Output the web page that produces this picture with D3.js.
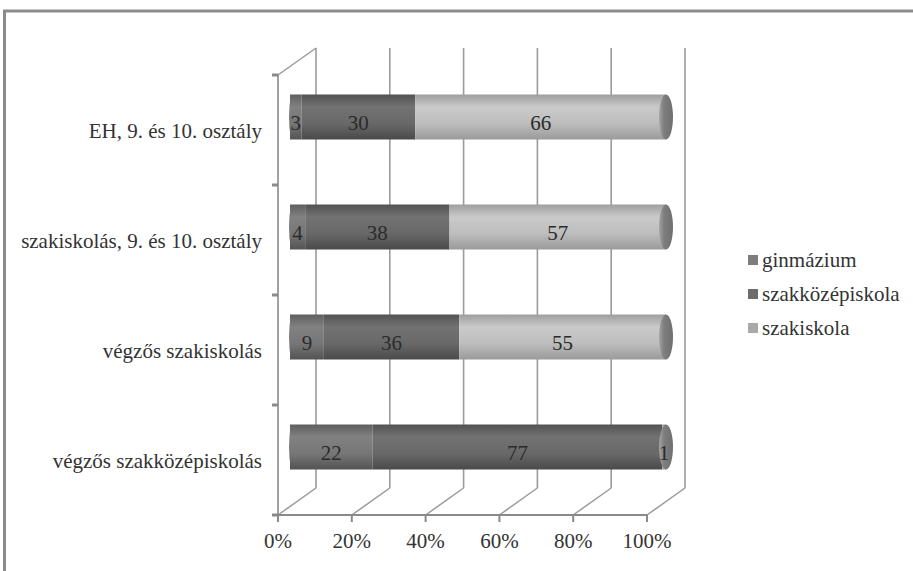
<!DOCTYPE html>
<html>
<head>
<meta charset="utf-8">
<script src="https://cdn.jsdelivr.net/npm/d3@7"></script>
<style>
  html, body { margin: 0; padding: 0; background: #fff; }
  svg { display: block; }
</style>
</head>
<body>
<svg id="chart" width="913" height="571" font-family="'Liberation Serif', 'DejaVu Serif', serif"></svg>
<script>
// Categories (top to bottom) and the three stacked series
const categories = [
  "EH, 9. és 10. osztály",
  "szakiskolás, 9. és 10. osztály",
  "végzős szakiskolás",
  "végzős szakközépiskolás"
];
const seriesNames = ["ginmázium", "szakközépiskola", "szakiskola"];
const gimnazium = [3, 4, 9, 22];
const szakkozepiskola = [30, 38, 36, 77];
const szakiskola = [66, 57, 55, 1];
const tickValues = [0, 20, 40, 60, 80, 100];
const tickLabels = ["0%", "20%", "40%", "60%", "80%", "100%"];

const seriesValues = [gimnazium, szakkozepiskola, szakiskola];

const svg = d3.select("#chart");
const W = 913, H = 571;
const textColor = "#333";
const fontSize = 21;

// Outer frame (top and left edges)
svg.append("path")
  .attr("d", `M4.5,${H} V11 H${W}`)
  .attr("fill", "none").attr("stroke", "#8c8c8c").attr("stroke-width", 3);

// Gradients for the cylinder look
const defs = svg.append("defs");
const seriesStops = [
  ["#5f5f5f", "#818181", "#767676", "#535353"],
  ["#525252", "#727272", "#686868", "#4a4a4a"],
  ["#9e9e9e", "#cacaca", "#bdbdbd", "#9a9a9a"]
];
seriesStops.forEach((st, i) => {
  const g = defs.append("linearGradient").attr("id", "g" + i)
    .attr("x1", 0).attr("y1", 0).attr("x2", 0).attr("y2", 1);
  [0, 0.28, 0.65, 1].forEach((o, k) => g.append("stop").attr("offset", o).attr("stop-color", st[k]));
});
const capG = defs.append("linearGradient").attr("id", "cap")
  .attr("x1", 0).attr("y1", 0).attr("x2", 1).attr("y2", 0);
capG.append("stop").attr("offset", 0).attr("stop-color", "#a5a5a5");
capG.append("stop").attr("offset", 0.35).attr("stop-color", "#7e7e7e");
capG.append("stop").attr("offset", 1).attr("stop-color", "#6f6f6f");

// Scales: front axis plane, depth offset to back wall, bar plane in the middle
const x = d3.scaleLinear().domain([0, 100]).range([278, 647]);
const depth = { dx: 38, dy: -27 };
const y = d3.scaleBand().domain(categories).range([75, 515]);
const xBar = d3.scaleLinear().domain([0, 100]).range([290, 666]);
const barH = 45;
const barMid = c => y(c) + y.bandwidth() / 2 - 13;

const gridColor = "#9a9a9a";

// Back wall vertical gridlines
svg.append("g").selectAll("line").data(tickValues).join("line")
  .attr("x1", d => x(d) + depth.dx).attr("x2", d => x(d) + depth.dx)
  .attr("y1", 75 + depth.dy).attr("y2", 515 + depth.dy)
  .attr("stroke", gridColor).attr("stroke-width", 1.6);

// Floor diagonals from each front tick to the back wall
svg.append("g").selectAll("line").data(tickValues).join("line")
  .attr("x1", d => x(d)).attr("y1", 515)
  .attr("x2", d => x(d) + depth.dx).attr("y2", 515 + depth.dy)
  .attr("stroke", gridColor).attr("stroke-width", 1.5);

// Left wall top diagonal
svg.append("line")
  .attr("x1", x(0)).attr("y1", 75)
  .attr("x2", x(0) + depth.dx).attr("y2", 75 + depth.dy)
  .attr("stroke", gridColor).attr("stroke-width", 1.5);

// Front value axis line with ticks
svg.append("line")
  .attr("x1", x(0)).attr("x2", x(100)).attr("y1", 515).attr("y2", 515)
  .attr("stroke", "#8a8a8a").attr("stroke-width", 2);
svg.append("g").selectAll("line").data(tickValues).join("line")
  .attr("x1", d => x(d)).attr("x2", d => x(d)).attr("y1", 515).attr("y2", 522)
  .attr("stroke", "#8a8a8a").attr("stroke-width", 2);
svg.append("g").selectAll("text").data(tickValues).join("text")
  .attr("x", d => x(d)).attr("y", 548)
  .attr("text-anchor", "middle").attr("font-size", fontSize).attr("fill", textColor)
  .text((d, i) => tickLabels[i]);

// Front category axis line with ticks
svg.append("line")
  .attr("x1", x(0)).attr("x2", x(0)).attr("y1", 75).attr("y2", 515)
  .attr("stroke", "#8a8a8a").attr("stroke-width", 1.6);
const catTicks = categories.map(c => y(c)).concat([y.range()[1]]);
svg.append("g").selectAll("line").data(catTicks).join("line")
  .attr("x1", x(0) - 6).attr("x2", x(0)).attr("y1", d => d).attr("y2", d => d)
  .attr("stroke", "#8a8a8a").attr("stroke-width", 3);

// Category labels
svg.append("g").selectAll("text").data(categories).join("text")
  .attr("x", 262).attr("y", d => y(d) + y.bandwidth() / 2 + 8)
  .attr("text-anchor", "end").attr("font-size", fontSize).attr("fill", textColor)
  .text(d => d);

// Stacked 100% segments
const rows = categories.map((c, i) => {
  const vals = seriesValues.map(s => s[i]);
  const total = d3.sum(vals);
  let acc = 0;
  return vals.map((v, k) => {
    const s0 = acc / total * 100;
    acc += v;
    return { cat: c, k, v, s0, s1: acc / total * 100 };
  });
});

const bars = svg.append("g");
rows.forEach(segs => {
  const c = segs[0].cat;
  const top = barMid(c) - barH / 2;
  const g = bars.append("g");
  // segments
  g.selectAll("rect").data(segs).join("rect")
    .attr("x", d => xBar(d.s0)).attr("y", top)
    .attr("width", d => xBar(d.s1) - xBar(d.s0)).attr("height", barH)
    .attr("fill", d => `url(#g${d.k})`);
  // rounded left end
  const first = segs.find(d => d.v > 0);
  g.append("path")
    .attr("d", `M${xBar(0) + 1},${top} Q${xBar(0) - 3},${top + barH / 2} ${xBar(0) + 1},${top + barH} Z`)
    .attr("fill", `url(#g${first.k})`);
  // visible right cap
  g.append("ellipse")
    .attr("cx", xBar(100)).attr("cy", barMid(c))
    .attr("rx", 7).attr("ry", barH / 2)
    .attr("fill", "url(#cap)");
  // value labels
  g.selectAll("text").data(segs).join("text")
    .attr("x", d => xBar((d.s0 + d.s1) / 2))
    .attr("y", barMid(c) + 12.5)
    .attr("text-anchor", "middle").attr("font-size", fontSize)
    .attr("fill", "#2b2b2b")
    .text(d => d.v);
});

// Legend
const legendColors = ["#7d7d7d", "#6c6c6c", "#a9a9a9"];
const lg = svg.append("g").attr("transform", "translate(748,0)");
const legendY = [260, 294, 328];
seriesNames.forEach((n, i) => {
  lg.append("rect").attr("x", 0).attr("y", legendY[i] - 5).attr("width", 10).attr("height", 10)
    .attr("fill", legendColors[i]);
  lg.append("text").attr("x", 14).attr("y", legendY[i] + 7)
    .attr("font-size", fontSize).attr("fill", textColor).text(n);
});
</script>
</body>
</html>
